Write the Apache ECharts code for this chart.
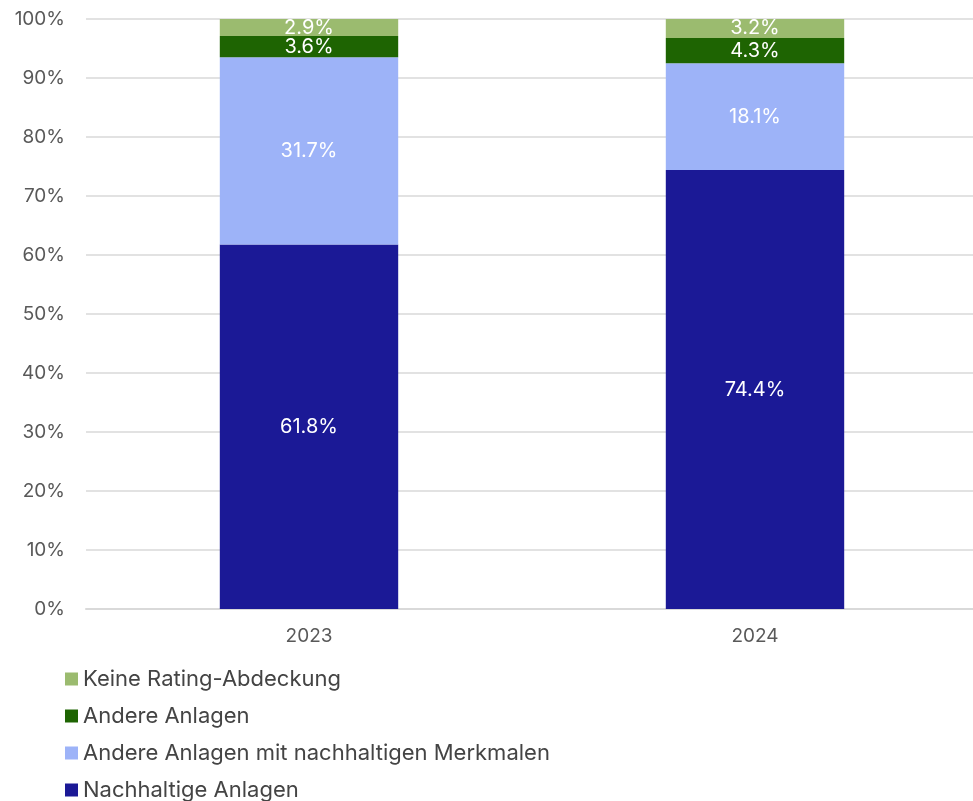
<!DOCTYPE html>
<html>
<head>
<meta charset="utf-8">
<script src="https://cdn.jsdelivr.net/npm/echarts@6/dist/echarts.min.js"></script>
<style>
  html, body { margin: 0; padding: 0; background: #fff; }
  #chart { width: 973px; height: 801px; }
</style>
</head>
<body>
<div id="chart"></div>
<script>
// Daten
var years = ["2023", "2024"];
var nachhaltig = [61.8, 74.4];
var andereMerkmale = [31.7, 18.1];
var andere = [3.6, 4.3];
var keinRating = [2.9, 3.2];
var legendOrder = [
  "Keine Rating-Abdeckung",
  "Andere Anlagen",
  "Andere Anlagen mit nachhaltigen Merkmalen",
  "Nachhaltige Anlagen"
];

var fontFam = "Inter, 'Open Sans', sans-serif";

function makeSeries(name, data, color) {
  return {
    name: name,
    type: "bar",
    stack: "total",
    barWidth: "40%",
    data: data,
    itemStyle: { color: color },
    label: {
      show: true,
      position: "inside",
      color: "#fff",
      fontSize: 20,
      fontFamily: fontFam,
      formatter: function (p) { return p.value.toFixed(1) + "%"; }
    }
  };
}

var chart = echarts.init(document.getElementById("chart"));
chart.setOption({
  animation: false,
  grid: { left: 86, width: 892, top: 19, height: 590, outerBoundsMode: "none" },
  legend: {
    data: legendOrder,
    orient: "vertical",
    left: 65,
    top: 668,
    height: 160,
    padding: 0,
    itemWidth: 13,
    itemHeight: 13,
    itemGap: 15,
    icon: "rect",
    textStyle: { fontSize: 22, color: "#444", fontFamily: fontFam }
  },
  xAxis: {
    type: "category",
    data: years,
    axisLine: { lineStyle: { color: "#d9d9d9", width: 2 } },
    axisTick: { show: false },
    axisLabel: { fontSize: 19, color: "#595959", fontFamily: fontFam, margin: 18 }
  },
  yAxis: {
    type: "value",
    min: 0,
    max: 100,
    interval: 10,
    axisLabel: {
      fontSize: 19,
      color: "#595959",
      fontFamily: fontFam,
      margin: 21,
      formatter: "{value}%"
    },
    splitLine: { lineStyle: { color: "#d9d9d9", width: 1.5 } }
  },
  series: [
    makeSeries("Nachhaltige Anlagen", nachhaltig, "#1b1996"),
    makeSeries("Andere Anlagen mit nachhaltigen Merkmalen", andereMerkmale, "#9db3f8"),
    makeSeries("Andere Anlagen", andere, "#1e6402"),
    makeSeries("Keine Rating-Abdeckung", keinRating, "#9bbb6f")
  ]
});
</script>
</body>
</html>
